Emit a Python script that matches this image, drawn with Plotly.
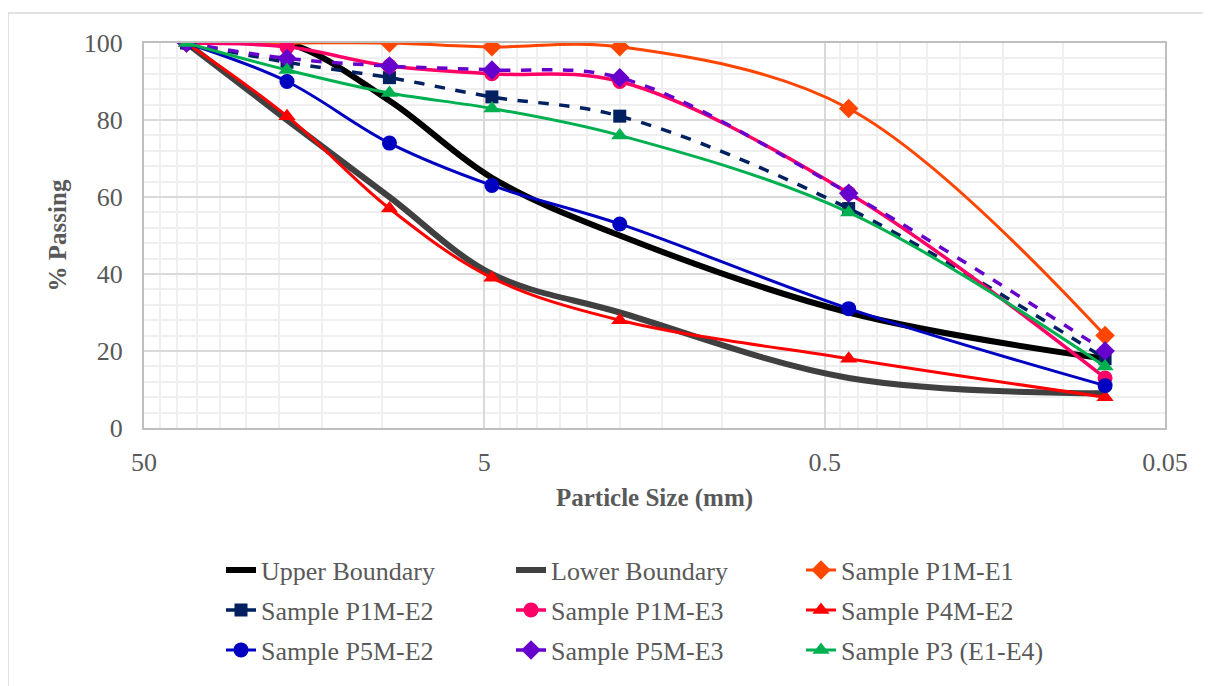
import plotly.graph_objects as go

# ---- data ----
sizes_mm = [37.5, 19, 9.5, 4.75, 2.0, 0.425, 0.075]
upper_boundary = [100, 100, 85, 65, 50, 30, 18]
lower_boundary = [100, 80, 60, 40, 30, 13, 9]
p1m_e1 = [100, 100, 100, 99, 99, 83, 24]
p1m_e2 = [100, 95, 91, 86, 81, 57, 18]
p1m_e3 = [100, 99, 94, 92, 90, 61, 13]
p4m_e2 = [100, 81, 57, 39, 28, 18, 8]
p5m_e2 = [100, 90, 74, 63, 53, 31, 11]
p5m_e3 = [100, 96, 94, 93, 91, 61, 20]
p3_e1_e4 = [100, 93, 87, 83, 76, 56, 16]

x_tick_vals = [50, 5, 0.5, 0.05]
x_tick_text = ["50", "5", "0.5", "0.05"]

FONT = "Liberation Serif"
GREY_TXT = "#595959"

fig = go.Figure()

series = [
    ("Upper Boundary", upper_boundary, "#000000", 6, "solid", None, 0, "legend"),
    ("Lower Boundary", lower_boundary, "#404040", 6, "solid", None, 0, "legend"),
    ("Sample P1M-E1", p1m_e1, "#FF4500", 3, "solid", "diamond", 15, "legend"),
    ("Sample P1M-E2", p1m_e2, "#002060", 3.5, "dash", "square", 13, "legend2"),
    ("Sample P1M-E3", p1m_e3, "#FF0066", 3.5, "solid", "circle", 15, "legend2"),
    ("Sample P4M-E2", p4m_e2, "#FF0000", 3, "solid", "triangle-up", 15, "legend2"),
    ("Sample P5M-E2", p5m_e2, "#0000C0", 3, "solid", "circle", 15, "legend3"),
    ("Sample P5M-E3", p5m_e3, "#6600CC", 3.5, "dash", "diamond", 15, "legend3"),
    ("Sample P3 (E1-E4)", p3_e1_e4, "#00B050", 3, "solid", "triangle-up", 15, "legend3"),
]

for name, vals, color, width, dash, symbol, msize, leg in series:
    mode = "lines+markers" if symbol else "lines"
    kw = dict(
        x=sizes_mm, y=vals, name=name, mode=mode, legend=leg,
        line=dict(color=color, width=width, dash=dash, shape="spline", smoothing=1),
    )
    if symbol:
        kw["marker"] = dict(symbol=symbol, size=msize, color=color)
    fig.add_trace(go.Scatter(**kw))

# minor log grid (Excel-style multiples of major tick)
minor_vals = []
for base in [5, 0.5, 0.05]:
    for m in range(2, 10):
        minor_vals.append(base * m)

OFF = 8  # page body margin
W, H = 1211, 686
# target plot area in page pixels: x 144..1165, y 43..428
L = 144 - OFF
T = 43 - OFF
R = W - (1165 - OFF)
B = H - (428 - OFF)
pw, ph = W - L - R, H - T - B

def px_x(px):
    return (px - OFF - L) / pw

def px_y(py):
    return (H - B - (py - OFF)) / ph

leg_common = dict(
    orientation="h", xanchor="left", yanchor="middle",
    font=dict(family=FONT, size=26, color=GREY_TXT),
    entrywidth=245, entrywidthmode="pixels",
    bgcolor="rgba(0,0,0,0)", itemwidth=30,
)

fig.update_layout(
    width=W, height=H,
    margin=dict(l=L, r=R, t=T, b=B),
    paper_bgcolor="white", plot_bgcolor="white",
    font=dict(family=FONT, size=26, color=GREY_TXT),
    showlegend=True,
    legend=dict(x=px_x(221), y=px_y(570), **leg_common),
    legend2=dict(x=px_x(221), y=px_y(610), **leg_common),
    legend3=dict(x=px_x(221), y=px_y(650), **leg_common),
    xaxis=dict(
        type="log",
        range=[1.69897, -1.30103],
        tickmode="array", tickvals=x_tick_vals, ticktext=x_tick_text,
        tickfont=dict(family=FONT, size=26, color=GREY_TXT),
        ticks="", ticklabelstandoff=10,
        showgrid=True, gridcolor="#D9D9D9", gridwidth=1.5,
        minor=dict(tickmode="array", tickvals=minor_vals, showgrid=True,
                   gridcolor="#EFEFEF", gridwidth=1.5),
        showline=True, linecolor="#BFBFBF", linewidth=2, mirror=True,
        zeroline=False,
        title=dict(text="<b>Particle Size (mm)</b>",
                   font=dict(family=FONT, size=25, color=GREY_TXT), standoff=12),
    ),
    yaxis=dict(
        range=[0, 100], tickmode="linear", tick0=0, dtick=20,
        tickfont=dict(family=FONT, size=26, color=GREY_TXT),
        ticks="", ticklabelstandoff=14,
        showgrid=True, gridcolor="#D9D9D9", gridwidth=1.5,
        minor=dict(dtick=4, showgrid=True, gridcolor="#EFEFEF", gridwidth=1.5),
        showline=True, linecolor="#BFBFBF", linewidth=2, mirror=True,
        zeroline=False,
        title=dict(text="<b>% Passing</b>",
                   font=dict(family=FONT, size=25, color=GREY_TXT), standoff=10),
    ),
    shapes=[dict(
        type="rect", xref="paper", yref="paper",
        x0=px_x(8), x1=px_x(1230), y0=px_y(710), y1=px_y(13),
        line=dict(color="#D9D9D9", width=1.5), fillcolor="rgba(0,0,0,0)",
        layer="below",
    )],
)

fig.write_html("out.html")
